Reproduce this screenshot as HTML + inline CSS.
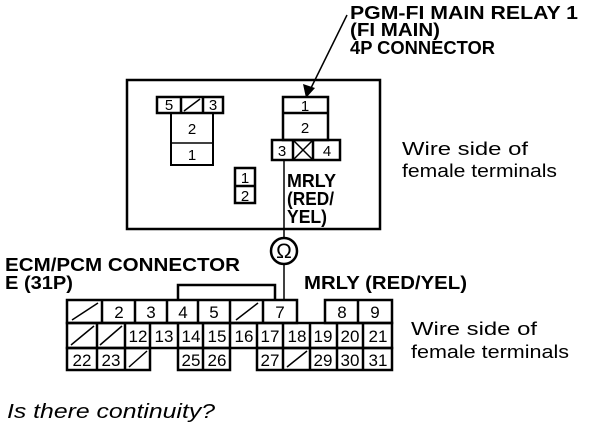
<!DOCTYPE html><html><head><style>body{margin:0;background:#fff}svg{display:block}</style></head><body>
<svg width="608" height="434" viewBox="0 0 608 434" xmlns="http://www.w3.org/2000/svg" font-family="Liberation Sans, Arial, sans-serif">
<g fill="none" stroke="#000" stroke-width="2.5">
<rect x="127" y="80" width="253" height="149"/>
<rect x="157" y="97" width="66" height="16"/><line x1="181" y1="97" x2="181" y2="113"/><line x1="203" y1="97" x2="203" y2="113"/>
<line x1="184" y1="111" x2="200" y2="99" stroke-width="1.5"/>
<rect x="171" y="113" width="42" height="52" stroke-width="2"/><line x1="171" y1="143" x2="213" y2="143" stroke-width="1.5"/>
<rect x="235" y="168" width="20" height="35"/><line x1="235" y1="186" x2="255" y2="186"/>
<rect x="283" y="97" width="45" height="43"/><line x1="283" y1="113" x2="328" y2="113"/>
<rect x="272" y="140" width="68" height="20"/><line x1="293" y1="140" x2="293" y2="160"/><line x1="313" y1="140" x2="313" y2="160"/>
<line x1="293" y1="140" x2="313" y2="160" stroke-width="1.5"/><line x1="313" y1="140" x2="293" y2="160" stroke-width="1.5"/>
<line x1="284" y1="160" x2="284" y2="237" stroke-width="1.5"/>
<circle cx="284" cy="251" r="13" stroke-width="2.5"/>
<line x1="284" y1="264" x2="284" y2="300" stroke-width="1.5"/>
<line x1="347" y1="15" x2="310" y2="90" stroke-width="1.5"/>
<polyline points="178,300 178,285 275,285 275,300"/>
<rect x="67" y="300" width="230" height="23"/>
<line x1="102" y1="300" x2="102" y2="323"/><line x1="135" y1="300" x2="135" y2="323"/><line x1="167" y1="300" x2="167" y2="323"/><line x1="198" y1="300" x2="198" y2="323"/><line x1="230" y1="300" x2="230" y2="323"/><line x1="263" y1="300" x2="263" y2="323"/>
<rect x="325" y="300" width="67" height="23"/><line x1="358" y1="300" x2="358" y2="323"/>
<line x1="72" y1="320" x2="98" y2="303" stroke-width="1.5"/><line x1="236" y1="320" x2="258" y2="303" stroke-width="1.5"/>
<rect x="67" y="323" width="325" height="25"/>
<line x1="97" y1="323" x2="97" y2="348"/><line x1="125" y1="323" x2="125" y2="348"/><line x1="150" y1="323" x2="150" y2="348"/><line x1="178" y1="323" x2="178" y2="348"/><line x1="203" y1="323" x2="203" y2="348"/><line x1="230" y1="323" x2="230" y2="348"/><line x1="257" y1="323" x2="257" y2="348"/><line x1="283" y1="323" x2="283" y2="348"/><line x1="310" y1="323" x2="310" y2="348"/><line x1="337" y1="323" x2="337" y2="348"/><line x1="363" y1="323" x2="363" y2="348"/>
<line x1="71" y1="345" x2="94" y2="326" stroke-width="1.5"/><line x1="100" y1="345" x2="122" y2="326" stroke-width="1.5"/>
<rect x="67" y="348" width="83" height="22"/><line x1="97" y1="348" x2="97" y2="370"/><line x1="125" y1="348" x2="125" y2="370"/>
<line x1="129" y1="367" x2="147" y2="351" stroke-width="1.5"/>
<rect x="178" y="348" width="52" height="22"/><line x1="203" y1="348" x2="203" y2="370"/>
<rect x="257" y="348" width="135" height="22"/><line x1="283" y1="348" x2="283" y2="370"/><line x1="310" y1="348" x2="310" y2="370"/><line x1="337" y1="348" x2="337" y2="370"/><line x1="363" y1="348" x2="363" y2="370"/>
<line x1="287" y1="367" x2="307" y2="351" stroke-width="1.5"/>
</g>
<polygon points="306,98 303,84 315,88" fill="#000"/>
<g font-size="15" text-anchor="middle" fill="#000">
<text x="169" y="110">5</text><text x="213" y="110">3</text><text x="192" y="134">2</text><text x="192" y="160">1</text>
<text x="245" y="183">1</text><text x="245" y="201">2</text>
<text x="305" y="111">1</text><text x="305" y="133">2</text><text x="282" y="156">3</text><text x="327" y="156">4</text>
<text x="284" y="258" font-size="21">Ω</text>
<g font-size="17"><text x="119" y="318">2</text><text x="151" y="318">3</text><text x="183" y="318">4</text><text x="214" y="318">5</text><text x="280" y="318">7</text><text x="342" y="318">8</text><text x="375" y="318">9</text>
<text x="138" y="342">12</text><text x="164" y="342">13</text><text x="191" y="342">14</text><text x="217" y="342">15</text><text x="244" y="342">16</text><text x="270" y="342">17</text><text x="297" y="342">18</text><text x="323" y="342">19</text><text x="350" y="342">20</text><text x="378" y="342">21</text>
<text x="82" y="366">22</text><text x="111" y="366">23</text><text x="191" y="366">25</text><text x="217" y="366">26</text><text x="270" y="366">27</text><text x="323" y="366">29</text><text x="350" y="366">30</text><text x="378" y="366">31</text></g>
</g>
<g font-weight="bold" font-size="18" fill="#000">
<text x="350" y="19" textLength="228" lengthAdjust="spacingAndGlyphs">PGM-FI MAIN RELAY 1</text>
<text x="350" y="36" textLength="90" lengthAdjust="spacingAndGlyphs">(FI MAIN)</text>
<text x="350" y="54" textLength="145" lengthAdjust="spacingAndGlyphs">4P CONNECTOR</text>
<text x="287" y="187" textLength="49" lengthAdjust="spacingAndGlyphs">MRLY</text>
<text x="287" y="205" textLength="47" lengthAdjust="spacingAndGlyphs">(RED/</text>
<text x="287" y="223" textLength="40" lengthAdjust="spacingAndGlyphs">YEL)</text>
<text x="5" y="271" textLength="235" lengthAdjust="spacingAndGlyphs">ECM/PCM CONNECTOR</text>
<text x="5" y="289" textLength="68" lengthAdjust="spacingAndGlyphs">E (31P)</text>
<text x="304" y="289" textLength="163" lengthAdjust="spacingAndGlyphs">MRLY (RED/YEL)</text>
</g>
<g font-size="18" fill="#000">
<text x="402" y="155" textLength="126" lengthAdjust="spacingAndGlyphs">Wire side of</text>
<text x="402" y="177" textLength="155" lengthAdjust="spacingAndGlyphs">female terminals</text>
<text x="411" y="335" textLength="126" lengthAdjust="spacingAndGlyphs">Wire side of</text>
<text x="411" y="358" textLength="158" lengthAdjust="spacingAndGlyphs">female terminals</text>
<text x="7" y="418" font-size="20" font-style="italic" textLength="208" lengthAdjust="spacingAndGlyphs">Is there continuity?</text>
</g>
</svg></body></html>
